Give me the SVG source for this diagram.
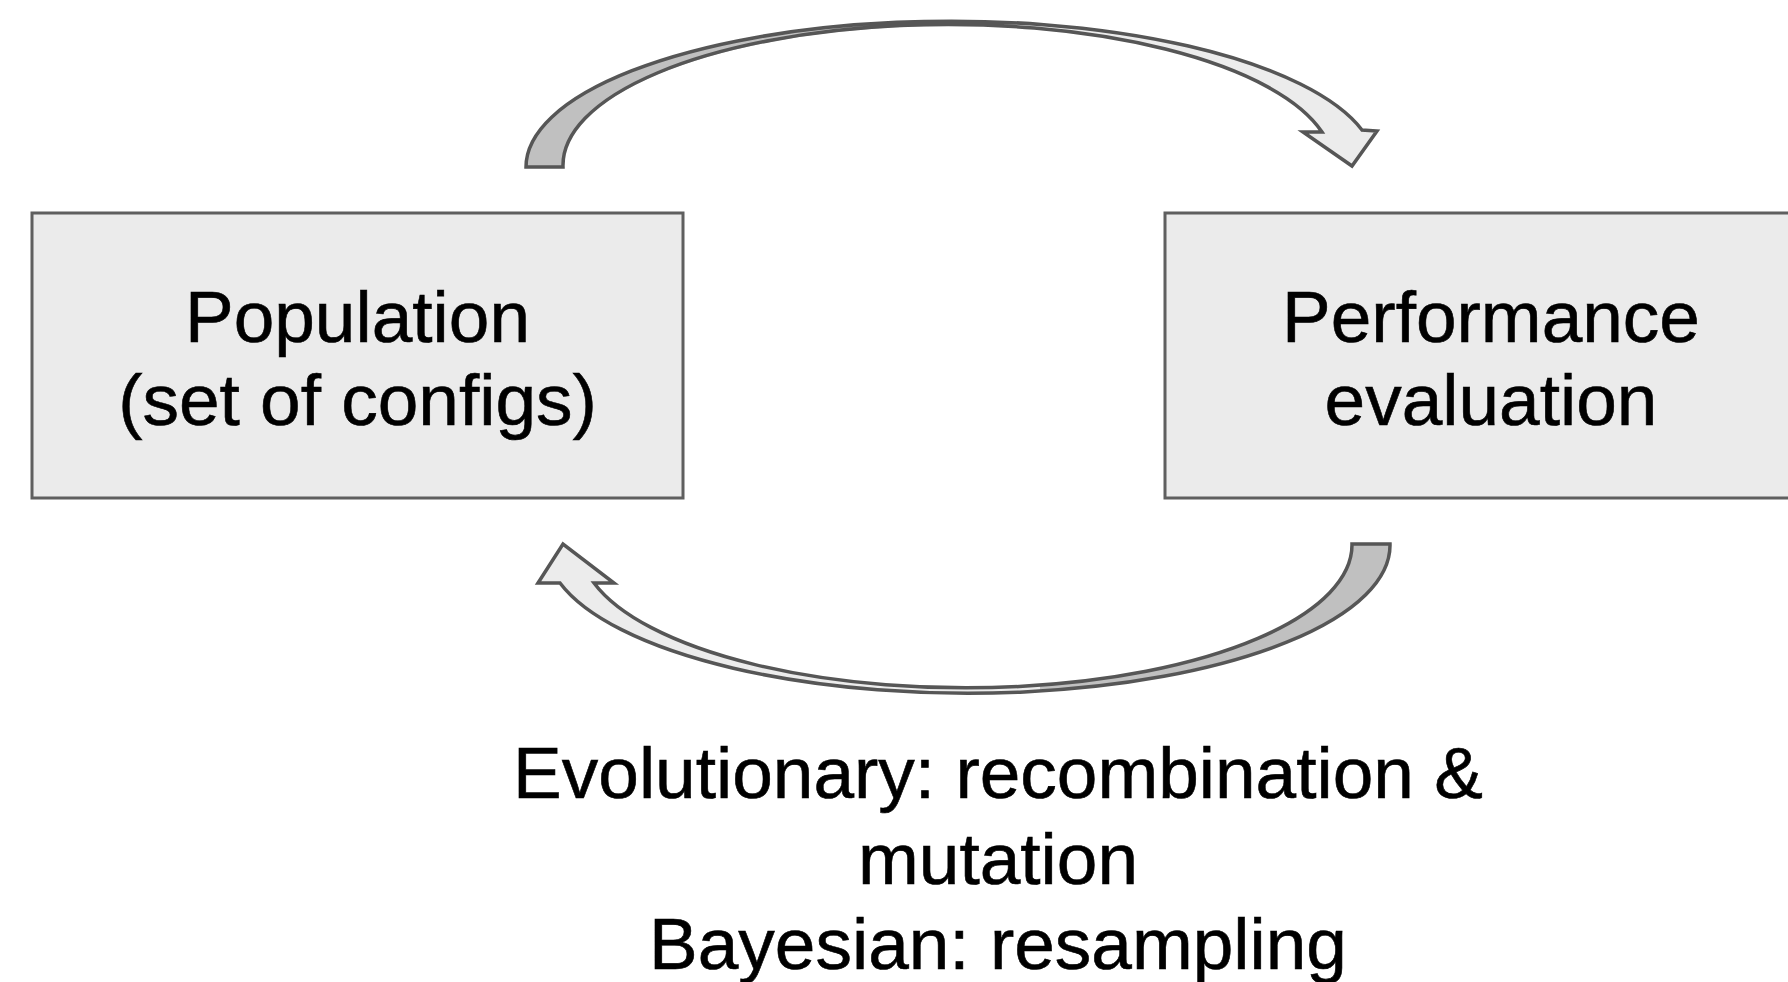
<svg xmlns="http://www.w3.org/2000/svg" width="1788" height="982" viewBox="0 0 1788 982">
<style>
.box{fill:#ebebeb;stroke:#5f5f5f;stroke-width:3}
.lbl{font-family:"Liberation Sans",Arial,sans-serif;font-size:73px;fill:#000;stroke:#000;stroke-width:0.6;text-anchor:middle}
.dark{fill:#c0c0c0;stroke:none}
.light{fill:#ececec;stroke:none}
.outline{fill:none;stroke:#565656;stroke-width:3.5;stroke-linejoin:miter}
</style>
<rect width="1788" height="982" fill="#fff"/>
<g id="connectors">
<g id="arrow-top">
<path class="dark" d="M526,167 A425,146 0 0 1 951,21 L948,26 A385,141 0 0 0 563,167 Z"/>
<path class="light" d="M880,23 A425,146 0 0 1 1362,130 L1377,131 L1352,166 L1303,132 L1322,132 A385,141 0 0 0 880,28 Z"/>
<path class="outline" d="M526,167 A425,146 0 0 1 1362,130 L1377,131 L1352,166 L1303,132 L1322,132 A385,141 0 0 0 563,167 Z"/>
</g>
<g id="arrow-bottom">
<path class="dark" d="M1390,544 A422,148 0 0 1 968,692 L966,687 A386,143 0 0 0 1352,544 Z"/>
<path class="light" d="M1040,690 A422,148 0 0 1 560,583 L538,583 L563,544 L614,583 L594,583 A386,143 0 0 0 1040,684 Z"/>
<path class="outline" d="M1390,544 A422,148 0 0 1 560,583 L538,583 L563,544 L614,583 L594,583 A386,143 0 0 0 1352,544 Z"/>
</g>
</g>
<g id="node-population">
<rect class="box" x="32" y="213" width="651" height="285"/>
<text class="lbl" x="357.5" y="342">Population</text>
<text class="lbl" x="357.5" y="425">(set of configs)</text>
</g>
<g id="node-performance">
<rect class="box" x="1165" y="213" width="700" height="285"/>
<text class="lbl" x="1491" y="342">Performance</text>
<text class="lbl" x="1491" y="425">evaluation</text>
</g>
<g id="label-bottom">
<text class="lbl" x="998" y="798">Evolutionary: recombination &amp;</text>
<text class="lbl" x="998" y="884">mutation</text>
<text class="lbl" x="998" y="969">Bayesian: resampling</text>
</g>
</svg>
